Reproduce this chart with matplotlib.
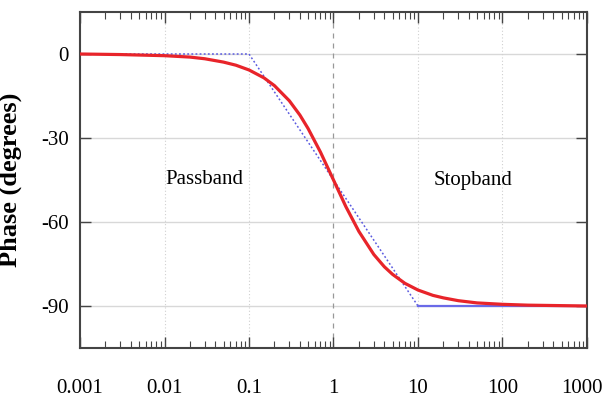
import matplotlib
matplotlib.use("Agg")
import matplotlib.pyplot as plt
import matplotlib.transforms as mtransforms
from matplotlib.ticker import LogLocator, NullFormatter, FixedLocator

# Data
freq = [0.001, 0.003, 0.01, 0.02, 0.03, 0.05, 0.07, 0.1, 0.15, 0.2, 0.3, 0.4, 0.5,
        0.7, 1.0, 1.4, 2.0, 3.0, 4.0, 5.0, 7.0, 10.0, 15.0, 20.0, 30.0, 50.0,
        100.0, 200.0, 1000.0]
phase = [0.0, -0.2, -0.6, -1.1, -1.7, -2.9, -4.0, -5.7, -8.5, -11.3, -16.7, -21.8,
         -26.6, -35.0, -45.0, -54.5, -63.4, -71.6, -76.0, -78.7, -81.9, -84.3,
         -86.2, -87.1, -88.1, -88.9, -89.4, -89.7, -90.0]
asym_freq = [0.001, 0.1, 10.0]
asym_phase = [0.0, 0.0, -90.0]
flat_freq = [10.0, 1000.0]
flat_phase = [-90.0, -90.0]
xticks = [0.001, 0.01, 0.1, 1, 10, 100, 1000]
xticklabels = ["0.001", "0.01", "0.1", "1", "10", "100", "1000"]
yticks = [0, -30, -60, -90]
yticklabels = ["0", "-30", "-60", "-90"]

plt.rcParams['font.family'] = ['Liberation Serif', 'DejaVu Serif']

fig = plt.figure(figsize=(6.06, 4.04), dpi=100)
L, R, T, B = 80, 587, 12, 348
ax = fig.add_axes([L/606, 1-B/404, (R-L)/606, (B-T)/404])

ax.set_xscale('log')
ax.set_xlim(0.001, 1000)
ax.set_ylim(-105, 15)

# grid
for y in yticks:
    ax.axhline(y, color='#d8d8d8', lw=1.0, zorder=0)
for x in xticks[1:-1]:
    if x == 1:
        ax.axvline(x, color='#999999', lw=0.9, ls=(0, (4, 4)), zorder=0)
    else:
        ax.axvline(x, color='#d0d0d0', lw=0.8, ls=(0, (1, 2)), zorder=0)

ax.plot(asym_freq, asym_phase, color='#5b5be0', lw=1.1, ls=(0, (1.2, 1.5)), zorder=2)
ax.plot(flat_freq, flat_phase, color='#6a6ae8', lw=1.6, zorder=2)
ax.plot(freq, phase, color='#e8242a', lw=2.3, zorder=3)

ax.text(0.03, -45, 'Passband', fontsize=15, ha='center', va='center')
ax.text(45, -45, 'Stopband', fontsize=15, ha='center', va='center')

ax.xaxis.set_major_locator(FixedLocator(xticks))
ax.set_xticklabels(xticklabels)
ax.xaxis.set_minor_locator(LogLocator(base=10, subs=range(2, 10), numticks=20))
ax.xaxis.set_minor_formatter(NullFormatter())
ax.set_yticks(yticks)
ax.set_yticklabels(yticklabels)

ax.tick_params(axis='both', which='major', direction='in', length=8, width=1,
               top=True, right=True, labelsize=15, color='#444444')
ax.tick_params(axis='x', which='minor', direction='in', length=5, width=0.8,
               top=True, bottom=True, color='#444444')
ax.tick_params(axis='x', which='major', pad=22)
ax.tick_params(axis='y', which='major', pad=8)

# keep the last x label inside the canvas
last = ax.get_xticklabels()[-1]
last.set_transform(last.get_transform() +
                   mtransforms.ScaledTranslation(-5/100, 0, fig.dpi_scale_trans))

for s in ax.spines.values():
    s.set_color('#444444')
    s.set_linewidth(1.5)

ax.set_ylabel('Phase (degrees)', fontsize=19, fontweight='bold')
ax.yaxis.set_label_coords(-(L-22)/(R-L), 0.5)

fig.savefig('out.png', dpi=100)
